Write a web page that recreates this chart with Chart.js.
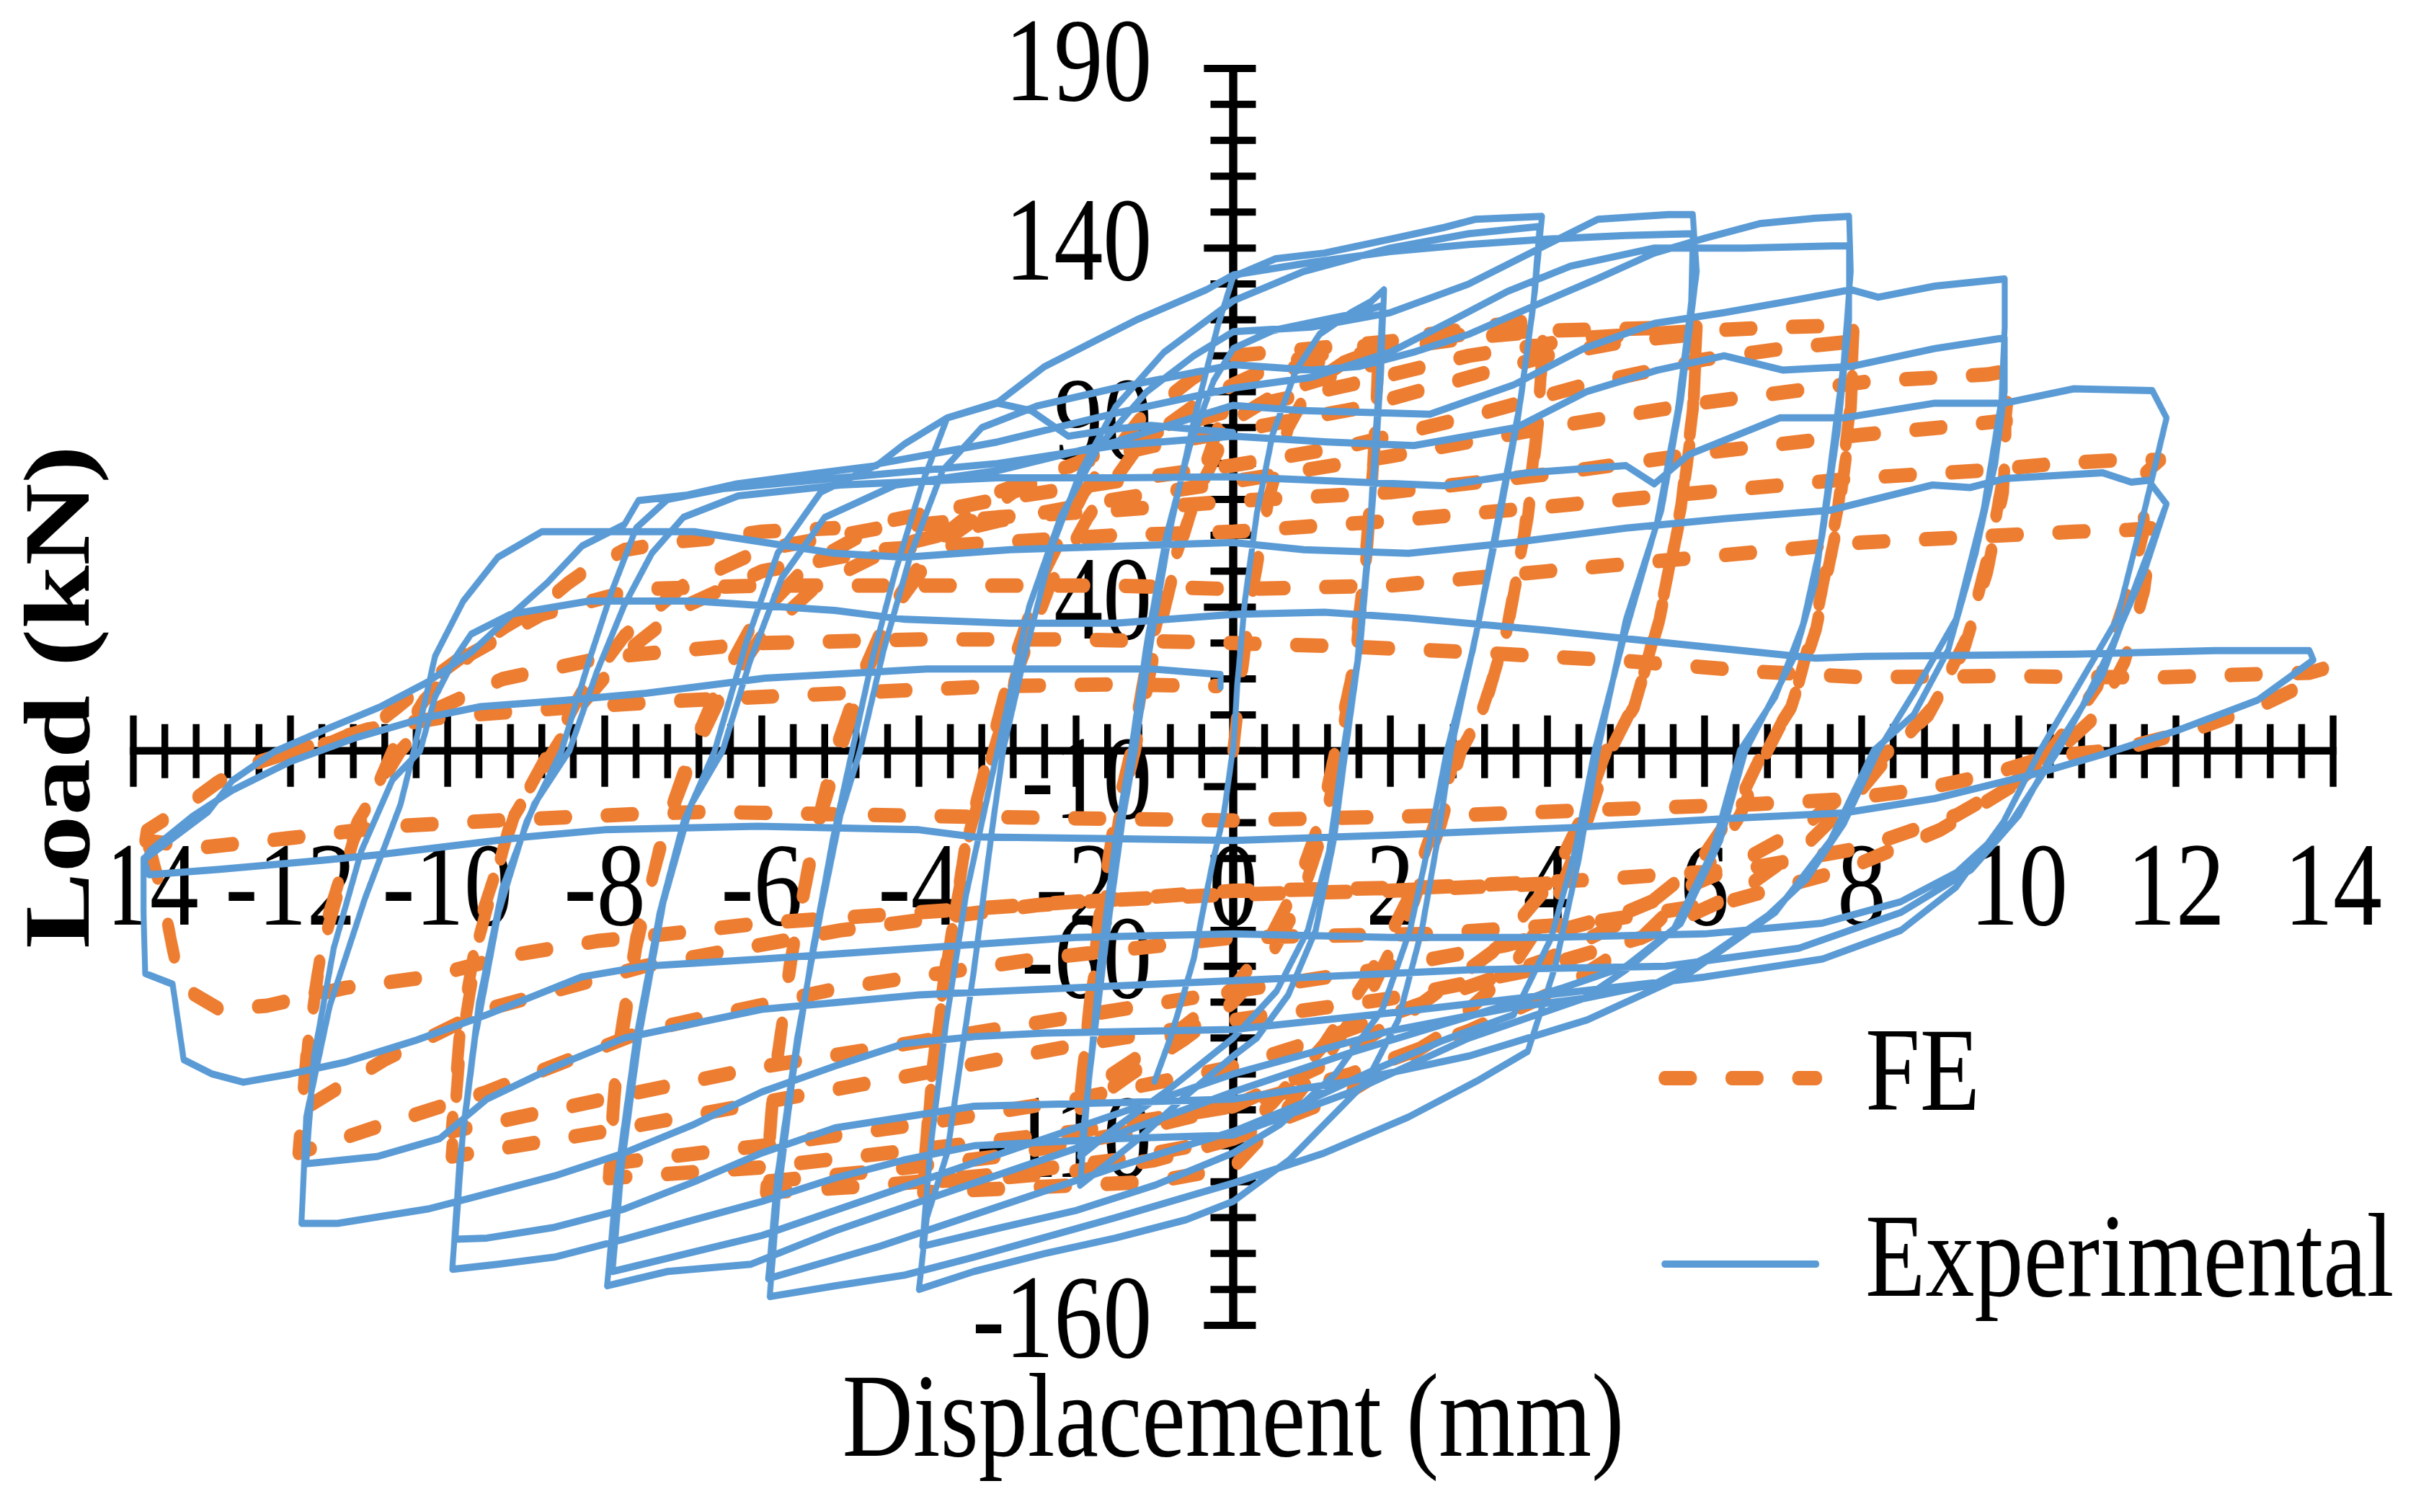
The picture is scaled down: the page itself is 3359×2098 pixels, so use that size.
<!DOCTYPE html>
<html><head><meta charset="utf-8">
<script src="https://cdn.jsdelivr.net/npm/chart.js@4.4.1/dist/chart.umd.min.js"></script>
<style>html,body{margin:0;padding:0;background:#fff;overflow:hidden;}canvas{display:block;}</style>
</head><body>
<canvas id="c" width="4096" height="2098" style="width:3359px;height:2098px"></canvas>
<script>
// ---------- tick labels ----------
const xTickValues = [-14,-12,-10,-8,-6,-4,-2,0,2,4,6,8,10,12,14];
const yTickValues = [-160,-110,-60,-10,40,90,140,190];
const seriesNames = ['Experimental','FE'];

// ---------- Experimental (blue) branches: [displacement mm, load kN] ----------
const eP0 = [[0,0],[0.05,18],[0.15,42],[0.3,66],[0.5,88],[0.8,106],[1.1,116],[1.5,122],[1.75,125],[1.92,128.4]];
const eN1 = [[1.92,128.4],[1.88,105],[1.78,70],[1.62,30],[1.43,0],[1.28,-25],[1.05,-50],[0.7,-68],[0.3,-80],[0,-85],[-0.6,-96],[-1.2,-108],[-1.95,-121]];
const eP1 = [[-1.95,-121],[-1.85,-95],[-1.7,-60],[-1.5,-25],[-1.3,0],[-1.1,30],[-0.85,60],[-0.55,85],[-0.25,103],[0,112],[0.5,117],[1.16,120],[1.6,122],[1.9,124]];
const eN2 = [[1.9,124],[1.84,98],[1.74,62],[1.58,25],[1.4,0],[1.22,-28],[0.95,-50],[0.55,-67],[0,-80],[-0.8,-94],[-1.5,-105],[-1.95,-113]];
const eP2 = [[-1.95,-113],[-1.8,-85],[-1.6,-50],[-1.4,-18],[-1.25,0],[-1.05,30],[-0.8,62],[-0.5,92],[-0.2,118],[0,132],[0.54,137],[1.16,138.6],[2.05,142.7],[2.68,145.7],[3.08,148],[3.93,148.8]];
const eN3 = [[3.93,148.8],[3.84,128],[3.66,97.8],[3.39,67],[3.13,36.6],[2.77,0],[2.6,-25],[2.4,-50],[2.1,-75],[1.7,-92],[1.16,-104],[0.71,-114],[0,-125.5],[-0.6,-130.6],[-1.5,-135.7],[-2.4,-140],[-3.3,-145],[-4,-150]];
const eP3 = [[-4,-150],[-3.9,-130],[-3.64,-112],[-3.3,-61],[-3.06,-20.4],[-2.93,0],[-2.66,26],[-2.3,57],[-1.95,77.4],[-1.5,95.7],[-0.88,111],[0,125.3],[0.9,133.5],[2,140],[3,144],[3.9,146]];
const eN4 = [[3.9,146],[3.82,124],[3.62,92],[3.35,60],[3.05,28],[2.72,0],[2.5,-25],[2.25,-50],[1.9,-72],[1.3,-90],[0.6,-104],[0,-112],[-1,-121],[-2,-128],[-3,-133],[-3.96,-138]];
const eP4 = [[-3.96,-138],[-3.85,-110],[-3.65,-75],[-3.4,-40],[-3.1,-10],[-2.85,15],[-2.6,40],[-2.2,65],[-1.7,85],[-1.1,100],[-0.5,110],[0,116.7],[1,118],[2,122],[3,130],[4,141],[4.64,148],[5.54,149.3],[5.85,149.3]];
const eN5 = [[5.85,149.3],[5.9,133.5],[5.7,97.8],[5.45,67],[5,36.6],[4.64,0],[4.4,-30],[4.1,-60],[3.75,-83.7],[3.1,-92],[2.23,-102],[1.16,-112],[0,-120.4],[-1.5,-130],[-3.3,-141],[-4.18,-146],[-5.07,-149],[-5.9,-152]];
const eP5 = [[-5.9,-152],[-5.8,-125],[-5.6,-90],[-5.35,-55],[-5.1,-25],[-4.85,0],[-4.6,25],[-4.3,50],[-3.95,75],[-3.64,92.7],[-3,97],[-2.4,107],[-1.68,115],[-1.23,120],[-0.34,128.4],[0,132.5],[1,136],[2,139],[3,141],[4,142.5],[5,143.5],[5.85,144]];
const eN6 = [[5.85,144],[5.83,125],[5.66,95],[5.4,64],[4.98,32],[4.6,0],[4.35,-28],[4.05,-52],[3.57,-73.5],[2.68,-80.6],[1.8,-88.8],[0.9,-98],[0,-106],[-1.5,-116],[-3,-127],[-4.5,-138],[-5.92,-147]];
const eP6 = [[-5.92,-147],[-5.8,-118],[-5.55,-80],[-5.25,-45],[-5,-18],[-4.75,0],[-4.45,28],[-4.1,55],[-3.7,78],[-3.2,90],[-2.5,96],[-1.5,101],[0,107.5],[1,106],[1.6,107],[2.3,111],[3,116],[3.84,124],[4.64,131.5],[5.36,138.6],[6,142.7],[6.7,146.8],[7.41,148.3],[7.84,148.8]];
const eN7 = [[7.84,148.8],[7.86,133.5],[7.77,108],[7.59,77],[7.41,46.8],[7.14,26],[6.52,0],[6.2,-25],[5.7,-48],[5,-60],[4.2,-66],[3,-74],[1.5,-84],[0,-95],[-1.5,-107],[-3.3,-120.4],[-5.07,-133.7],[-6.14,-143],[-7.2,-145],[-7.97,-149]];
const eP7 = [[-7.97,-149],[-7.85,-120],[-7.6,-80],[-7.3,-45],[-7,-20],[-6.6,0],[-6.2,30],[-5.8,55],[-5.25,72],[-4.5,80],[-3,86],[-1.5,94],[0,101],[1,104],[2,111],[2.8,120],[3.5,128],[4.3,135],[5.36,140],[6.5,140],[7.63,140.6],[7.84,140.6]];
const eN8 = [[7.84,140.6],[7.84,120],[7.7,90],[7.5,60],[7.25,35],[6.9,15],[6.45,0],[6.1,-28],[5.6,-50],[5,-61],[4.46,-69],[3.57,-71.4],[2,-78],[0,-90],[-2,-105],[-4,-120],[-6,-135],[-7.9,-145]];
const eP8 = [[-7.9,-145],[-7.78,-115],[-7.55,-78],[-7.25,-42],[-6.9,-15],[-6.5,0],[-6.15,25],[-5.75,48],[-5.2,65],[-4.3,74],[-3,78],[-1.5,86],[0,96.2],[0.9,94.7],[2.5,93.7],[3.57,101.9],[4.46,112],[5.36,119],[6.25,122],[7.1,125.3],[7.86,128.4],[8.21,126.3],[8.93,129.4],[9.82,131.4]];
const eN9 = [[9.82,131.4],[9.82,118],[9.78,97.8],[9.55,67],[9.2,36.6],[8.66,16],[8.21,0],[7.77,-20.4],[7.3,-35.7],[6.8,-46],[6.07,-57],[5.36,-65],[4.46,-69],[3,-80],[1.5,-95],[0,-107],[-1.5,-108],[-3.3,-110],[-4.2,-114],[-5.07,-119],[-6,-125.5],[-6.86,-130.6],[-7.75,-136],[-8.64,-141],[-9.36,-143],[-9.94,-144.4]];
const eP9 = [[-9.94,-144.4],[-9.85,-115],[-9.65,-80],[-9.35,-45],[-9,-20],[-8.55,0],[-8.2,25],[-7.9,45],[-7.6,62],[-7.2,70],[-6.5,73],[-5,76],[-3,80],[-1.5,85],[0,87.6],[1.2,86],[2.3,85],[3.6,90],[4.5,100],[5.4,106],[6.25,110],[7,106],[7.86,107],[8.93,112],[9.82,115]];
const eN10 = [[9.82,115],[9.82,100],[9.7,80],[9.45,55],[9.1,28],[8.66,10],[8.15,0],[7.6,-25],[6.9,-45],[5.8,-62],[4.5,-75],[3,-85],[1.5,-92],[0,-97],[-1.5,-98],[-3.3,-99],[-5.07,-105],[-6,-112],[-6.86,-120],[-7.75,-127.6],[-8.64,-132.7],[-9.5,-135.7],[-9.9,-136]];
const eP10 = [[-9.9,-136],[-9.8,-105],[-9.6,-70],[-9.3,-38],[-8.9,-15],[-8.45,0],[-8.1,22],[-7.75,40.6],[-7.4,55],[-7,65],[-6.3,71],[-5,74],[-3,76],[-1.5,76],[0,76.3],[1.07,75.3],[2.68,73.8],[3.75,77.4],[5,79.4],[5.36,74.3],[5.8,82.5],[6.96,92.7],[7.77,92.7],[8.93,96.8],[9.82,96.8],[10.7,100.8],[11.7,100.3]];
const eN11 = [[11.7,100.3],[11.88,92.7],[11.6,67],[11.25,36.6],[10.7,16],[10.27,0],[9.8,-20],[9.2,-38],[8.5,-50],[7.5,-58],[6,-63],[4,-68],[2,-73],[0,-77.6],[-2.4,-78.6],[-3.3,-79.6],[-4.2,-81.6],[-5.07,-87.8],[-6,-95],[-6.86,-104],[-7.75,-112],[-8.64,-118.4],[-9.7,-124.5],[-10.25,-127.6],[-11.4,-131.6],[-11.86,-131.6]];
const eP11 = [[-11.86,-131.6],[-11.8,-102],[-11.5,-71],[-11.05,-41],[-10.6,-15],[-10.43,0],[-10.16,26.3],[-9.8,41.7],[-9.36,53.9],[-8.8,61],[-7.4,61],[-6.86,61],[-5.96,58],[-5.07,55],[-4.18,53.9],[-2.84,56],[0,58],[0.9,56],[2.23,55],[3.57,58],[5,62],[6.25,64.6],[7.6,67],[8.9,74],[9.38,73.3],[9.82,75.8],[11.07,77.4],[11.43,74.8],[11.65,75.3]];
const eN12 = [[11.65,75.3],[11.88,68.7],[11.5,46.8],[11.07,21.3],[10.45,0],[10,-18],[9.4,-33],[8.5,-45],[7.2,-55],[5.5,-60],[3,-61],[0,-64],[-2,-66],[-4,-68],[-6,-72],[-7.75,-80],[-8.64,-88],[-9.5,-97],[-10.1,-108],[-10.9,-113],[-11.8,-115]];
const eP12 = [[-11.8,-115],[-11.7,-85],[-11.45,-55],[-11.1,-28],[-10.7,-8],[-10.35,0],[-10.16,15],[-9.9,26],[-9.7,32.5],[-9.2,38],[-8.2,41.7],[-6.86,41.7],[-5.07,39.1],[-4.18,36.6],[-2.84,35.5],[-1.5,35.5],[0,38],[1.16,38.6],[2.23,37],[4,33.5],[5.36,30.4],[7.41,25.8],[8.04,26.3],[10.7,26.9],[12.5,27.9],[13.7,27.9]];
const eN13 = [[13.7,27.9],[13.75,25.3],[13.04,14.1],[12.05,5.9],[11.07,-1],[10.27,-6.1],[8.93,-13.3],[7.77,-17.3],[6.25,-18.9],[4.3,-21.4],[2,-23.5],[0,-25],[-1.5,-24.5],[-3.3,-24],[-4,-22],[-6.05,-21],[-8,-22],[-9,-24],[-10.9,-29],[-11.6,-30.5],[-12.9,-33],[-13.8,-34.5],[-13.87,-30]];
const eX1 = [[11.88,68.7],[11.6,50],[11.2,30],[10.8,12],[10.5,0],[9.9,-20],[9.2,-34],[8.5,-42],[7.5,-48],[6,-51],[4,-52],[2,-52],[0,-51],[-2,-52],[-4,-55],[-6,-58],[-7.5,-60],[-8.3,-63],[-9.5,-73.5],[-10.4,-80.6],[-11.3,-86.7],[-12,-90],[-12.6,-92.3],[-13,-90],[-13.36,-86],[-13.5,-65],[-13.85,-62],[-13.87,-45],[-13.87,-30]];
const eX2 = [[-13.86,-30.3],[-13.05,-17],[-12.74,-8.3],[-12.21,-0.3],[-11.58,5.7],[-10.85,12.3],[-10.25,19.2],[-9.7,27.4],[-9.2,37.6],[-8.73,46.8],[-8.29,57],[-7.75,63],[-7.57,69.7],[-6.95,71.2],[-6.32,74.3],[-5.25,77.4],[-4.54,79.4],[-4.18,85.5],[-3.64,92.7],[-3,96.8],[-2.57,94.7],[-2.1,87.6],[-1.5,89.6],[-1.05,90.6],[0,88.6]];
const eX3 = [[-13.86,-30],[-13.78,-27.7],[-13.25,-18.3],[-12.74,-11],[-12,-3],[-11.16,3.7],[-10.32,9],[-9.58,12.3],[-8.53,14],[-7.48,16],[-5.96,20.2],[-3.9,22.8],[-1.05,22.8],[-0.16,21.2],[-0.16,17.7]];
const eX4 = [[0,1],[-0.12,-17.7],[-0.26,-31],[-0.38,-44],[-0.5,-57.7],[-0.63,-67.7],[-0.8,-80],[-1,-92]];

// ---------- FE (orange) branches ----------
const fP0 = [[0,0],[0.1,20],[0.25,45],[0.45,70],[0.7,90],[1,102],[1.4,108],[1.85,112]];
const fN1 = [[1.85,112],[1.8,85],[1.7,55],[1.55,25],[1.35,0],[1.15,-22],[0.85,-42],[0.4,-60],[0,-70],[-0.6,-80],[-1.3,-90],[-1.95,-100]];
const fP1 = [[-1.95,-100],[-1.85,-75],[-1.7,-45],[-1.5,-18],[-1.3,0],[-1.1,25],[-0.8,50],[-0.45,72],[0,92],[0.6,100],[1.2,104],[1.85,108]];
const fN2 = [[1.85,108],[1.78,80],[1.66,48],[1.5,20],[1.3,0],[1.1,-20],[0.8,-38],[0.4,-55],[0,-66],[-0.7,-78],[-1.4,-88],[-1.95,-96]];
const fP2 = [[-1.95,-96],[-1.82,-70],[-1.62,-40],[-1.42,-15],[-1.25,0],[-1,28],[-0.7,55],[-0.35,80],[0,102],[0.6,108],[1.5,112],[2.5,116],[3.3,118.5],[3.95,120]];
const fN3 = [[3.95,120],[3.9,95],[3.75,65],[3.5,35],[3.2,12],[2.9,0],[2.65,-20],[2.3,-42],[1.8,-65],[1.2,-85],[0.6,-102],[0,-116],[-1,-120],[-2,-121],[-3,-122],[-3.95,-123]];
const fP3 = [[-3.95,-123],[-3.85,-95],[-3.65,-60],[-3.4,-25],[-3.1,0],[-2.8,25],[-2.4,50],[-1.9,72],[-1.2,92],[-0.5,104],[0,110],[1,112],[2,114],[3,116],[3.95,117]];
const fN4 = [[3.95,117],[3.88,92],[3.7,60],[3.45,30],[3.15,10],[2.85,0],[2.6,-18],[2.25,-40],[1.75,-62],[1.15,-82],[0.5,-98],[0,-108],[-1,-114],[-2,-117],[-3,-119],[-3.95,-120]];
const fP4 = [[-3.95,-120],[-3.85,-92],[-3.65,-58],[-3.35,-22],[-3.05,0],[-2.75,22],[-2.35,45],[-1.85,65],[-1.2,85],[-0.5,96],[0,102],[1,108],[2,112],[3,115],[4,117],[5,117.5],[5.9,118]];
const fN5 = [[5.9,118],[5.85,95],[5.7,68],[5.45,40],[5.15,15],[4.8,0],[4.5,-20],[4.1,-42],[3.5,-62],[2.6,-80],[1.4,-96],[0,-108],[-1.5,-114],[-3,-118],[-4.5,-121],[-5.95,-123]];
const fP5 = [[-5.95,-123],[-5.85,-95],[-5.65,-60],[-5.35,-25],[-5.07,0],[-4.75,20],[-4.35,40],[-3.8,58],[-3,72],[-2,80],[-1,85],[0,89],[1.5,95],[3,104],[4,110],[5,114],[5.9,116]];
const fN6 = [[5.9,116],[5.85,92],[5.68,64],[5.42,36],[5.1,12],[4.75,0],[4.45,-18],[4,-38],[3.3,-56],[2.3,-72],[1.2,-87],[0,-99],[-1.5,-107],[-3,-113],[-4.5,-117],[-5.95,-120]];
const fP6 = [[-5.95,-120],[-5.85,-92],[-5.6,-55],[-5.3,-22],[-5,0],[-4.7,20],[-4.3,40],[-3.7,58],[-2.8,72],[-1.8,82],[-0.8,90],[0,95],[1.5,102],[3,110],[4.5,115],[6,117],[7,118],[7.9,118.5]];
const fN7 = [[7.9,118.5],[7.85,95],[7.7,68],[7.45,40],[7.15,15],[6.8,0],[6.45,-18],[5.95,-36],[5.2,-52],[4.2,-66],[3,-78],[1.5,-90],[0,-99],[-2,-106],[-4,-111],[-6,-116],[-7.95,-119]];
const fP7 = [[-7.95,-119],[-7.85,-90],[-7.6,-55],[-7.25,-22],[-6.9,0],[-6.55,18],[-6.1,36],[-5.4,52],[-4.4,64],[-3,70],[-1.5,75],[0,79.5],[1.5,85],[3,93],[4.5,102],[6,109],[7,112],[7.9,114]];
const fN8 = [[7.9,114],[7.85,90],[7.68,62],[7.42,34],[7.1,12],[6.75,0],[6.4,-16],[5.9,-32],[5.1,-46],[4,-58],[2.7,-68],[1.3,-79],[0,-88],[-2,-97],[-4,-104],[-6,-110],[-7.95,-115]];
const fP8 = [[-7.95,-115],[-7.85,-86],[-7.6,-52],[-7.2,-20],[-6.85,0],[-6.5,16],[-6,32],[-5.3,46],[-4.3,57],[-3,64],[-1.5,70],[0,75],[2,82],[4,90],[6,97],[8.15,103],[9,104],[9.6,104.8],[9.9,106]];
const fN9 = [[9.9,106],[9.83,92],[9.83,80],[9.65,58],[9.35,32],[8.9,12],[8.4,0],[7.95,-12],[7.3,-26],[6.4,-40],[5.2,-52],[3.8,-61],[2,-69],[0,-75],[-2,-82],[-4,-90],[-6,-98],[-8,-106],[-9.95,-113]];
const fP9 = [[-9.95,-113],[-9.85,-85],[-9.6,-52],[-9.2,-20],[-8.7,0],[-8.3,16],[-7.75,32],[-7,46],[-6,56],[-4.5,62],[-3,65],[-1.5,67],[0,69.5],[2,72],[4,77],[6,83],[8,88],[9,90],[9.85,92]];
const fN10 = [[9.85,92],[9.8,72],[9.6,50],[9.3,28],[8.85,10],[8.35,0],[7.9,-10],[7.2,-22],[6.2,-34],[5,-45],[3.5,-54],[1.8,-61],[0,-67],[-2,-74],[-4,-81],[-6,-88],[-8,-97],[-9.95,-106]];
const fP10 = [[-9.95,-106],[-9.85,-80],[-9.6,-48],[-9.15,-18],[-8.65,0],[-8.25,14],[-7.7,28],[-7,40],[-6,50],[-4.5,56],[-3,58],[-1.5,60],[0,61],[2,64],[4,68],[6,72],[8,76],[9.5,78],[10.5,80],[11.3,81],[11.8,81]];
const fN11 = [[11.8,81],[11.55,76.2],[11.6,61.8],[11.4,45],[11.16,29.4],[11,18],[10.63,6.6],[10.4,0],[9.9,-10],[9,-22],[7.8,-33],[6.3,-42],[4.5,-48],[2.5,-51],[0,-52],[-2.5,-58],[-5,-66],[-7.5,-78],[-9.5,-95],[-10.8,-104],[-11.9,-112]];
const fP11 = [[-11.9,-112],[-11.8,-85],[-11.6,-55],[-11.2,-25],[-10.7,0],[-10.3,14],[-9.7,27],[-8.8,38],[-7.6,45],[-6,46],[-4,46],[-1.5,46],[0,45],[2,46],[4,50],[6,54],[8,58],[9.8,60],[10.7,61],[11.4,61.5],[11.7,62]];
const fN12 = [[11.7,62],[11.6,45],[11.35,25],[11,10],[10.5,0],[10,-8],[9.2,-18],[8,-27],[6.5,-33],[4.5,-36],[2.5,-38],[0,-39],[-2.5,-43],[-5,-50],[-7.5,-60],[-9.5,-72],[-10.8,-86],[-11.85,-100]];
const fP12 = [[-11.85,-100],[-11.75,-75],[-11.55,-48],[-11.15,-20],[-10.6,0],[-10.1,12],[-9.3,20],[-8,26],[-6,30],[-4,31],[-2,31],[0,30],[1.5,29],[3,27.5],[5,25],[6.7,22],[8,20.5],[9.65,20.8],[11.75,20.4],[12.7,21.1],[13.7,21.7],[13.9,23]];
const fN13 = [[13.9,23],[13.6,18],[13.1,12.8],[12.2,5.6],[11.25,0.2],[10.4,-1.4],[9.6,-6.8],[8.7,-11],[7.7,-13.6],[6.7,-14.8],[4.8,-16.3],[2.9,-17.9],[0,-19.4],[-3,-18.5],[-6.74,-17],[-7.69,-17.7],[-9.27,-19.3],[-10.69,-21],[-12,-24.3],[-13.16,-27],[-13.85,-25]];
const fX1 = [[4,-37],[2,-39],[0,-40],[-2,-42],[-4,-45],[-6,-48],[-7.2,-51],[-8.1,-53],[-9.2,-57],[-10.25,-63],[-11.3,-66],[-12.3,-71],[-12.9,-72],[-13.4,-65.6],[-13.52,-53],[-13.63,-40.4],[-13.78,-27.8],[-13.85,-25]];
const fX2 = [[-13.85,-25],[-13.83,-22.3],[-13.36,-15.7],[-12.94,-9],[-12.57,-4.3],[-12.1,-1],[-11.47,2.3],[-10.9,7.7],[-10.63,12.3],[-10.2,20],[-9.7,28],[-9.27,34.5],[-8.8,40.6],[-8.46,46.8],[-8.2,50.8],[-7.75,55.9],[-7.2,58],[-6.7,59],[-6,61],[-5.07,62]];
const fX3 = [[-12.1,-1],[-11,6],[-10,9.5],[-8.5,12],[-7,14],[-5,16],[-3,18],[-1.5,18.5],[-0.2,18]];

const expPath = [eP0,eN1,eP1,eN2,eP2,eN3,eP3,eN4,eP4,eN5,eP5,eN6,eP6,eN7,eP7,eN8,eP8,eN9,eP9,eN10,eP10,eN11,eP11,eN12,eP12,eN13];
const expExtra = [eX1,eX2,eX3,eX4];
const fePath = [fP0,fN1,fP1,fN2,fP2,fN3,fP3,fN4,fP4,fN5,fP5,fN6,fP6,fN7,fP7,fN8,fP8,fN9,fP9,fN10,fP10,fN11,fP11,fN12,fP12,fN13];
const feExtra = [fX1,fX2,fX3];

// ---------- build point lists ----------
function toPoints(path, extras) {
  const pts = [];
  path.forEach(b => b.forEach(p => pts.push({x: p[0], y: p[1]})));
  extras.forEach(s => { pts.push({x: null, y: null}); s.forEach(p => pts.push({x: p[0], y: p[1]})); });
  return pts;
}

const BLUE = '#5B9BD5', ORANGE = '#ED7D31';
const FONT = "'Liberation Serif','Times New Roman',serif";
Chart.defaults.font.family = FONT;
Chart.defaults.color = '#000';

const X_MIN = -14, X_MAX = 14, Y_MIN = -160, Y_MAX = 190;

const crossAxes = {
  id: 'crossAxes',
  beforeDatasetsDraw(chart) {
    const ctx = chart.ctx, xs = chart.scales.x, ys = chart.scales.y;
    const x0 = xs.getPixelForValue(0), y0 = ys.getPixelForValue(0);
    const L = xs.getPixelForValue(X_MIN), R = xs.getPixelForValue(X_MAX);
    const T = ys.getPixelForValue(Y_MAX), B = ys.getPixelForValue(Y_MIN);
    ctx.save();
    // the axis-title box covers the start of the first x label, as in the source
    ctx.fillStyle = '#fff';
    ctx.fillRect(0, 1150, 194, 185);
    ctx.strokeStyle = '#000';
    ctx.lineCap = 'butt';
    ctx.lineWidth = 10.5;
    ctx.beginPath(); ctx.moveTo(L - 6, y0); ctx.lineTo(R + 6, y0); ctx.stroke();
    ctx.lineWidth = 11.5;
    for (let i = 0; i <= 70; i++) {
      const p = xs.getPixelForValue(X_MIN + i * 0.4);
      const major = i % 5 === 0;
      ctx.beginPath(); ctx.moveTo(p, y0 - (major ? 49 : 37)); ctx.lineTo(p, y0 + (major ? 50 : 38)); ctx.stroke();
    }
    ctx.lineWidth = 14;
    ctx.beginPath(); ctx.moveTo(x0, T - 5); ctx.lineTo(x0, B + 5); ctx.stroke();
    ctx.lineWidth = 10;
    for (let i = 0; i <= 35; i++) {
      const p = ys.getPixelForValue(Y_MIN + i * 10);
      const major = i % 5 === 0;
      ctx.beginPath(); ctx.moveTo(x0 - (major ? 49.6 : 38.5), p); ctx.lineTo(x0 + 38.3, p); ctx.stroke();
    }
    ctx.restore();
  }
};

const legendPlace = {
  id: 'legendPlace',
  afterLayout(chart) {
    const lg = chart.legend;
    if (!lg) return;
    lg.left = 2724; lg.top = 1321; lg.width = 4096 - 2724; lg.height = 760;
    lg.right = 4096; lg.bottom = lg.top + lg.height;
  }
};

new Chart(document.getElementById('c'), {
  type: 'scatter',
  data: {
    datasets: [
      { label: seriesNames[0], data: toPoints(expPath, expExtra), showLine: true, borderColor: BLUE, backgroundColor: BLUE,
        borderWidth: 10, pointRadius: 0, pointHoverRadius: 0, borderJoinStyle: 'round', borderCapStyle: 'round',
        spanGaps: false, xAxisID: 'x', yAxisID: 'y' },
      { label: seriesNames[1], data: toPoints(fePath, feExtra), showLine: true, borderColor: ORANGE, backgroundColor: ORANGE,
        borderWidth: 20, borderDash: [45, 68], pointRadius: 0, pointHoverRadius: 0, borderJoinStyle: 'round', borderCapStyle: 'round',
        spanGaps: false, xAxisID: 'x', yAxisID: 'y' }
    ]
  },
  options: {
    responsive: false, animation: false, devicePixelRatio: 1, events: [],
    layout: { padding: { left: 0, right: 148.8, top: 95, bottom: 0 } },
    scales: {
      // labels of the horizontal axis sit on a row below the axis line (value -23.1 kN), axis line drawn at 0 by crossAxes
      x: { type: 'linear', min: X_MIN, max: X_MAX, position: { y: -23.1 },
        afterBuildTicks: (s) => { s.ticks = xTickValues.map(v => ({ value: v })); },
        ticks: { autoSkip: false, maxRotation: 0, minRotation: 0, padding: 0, color: '#000',
          font: { family: FONT, size: 166, lineHeight: 1 }, callback: (v) => String(v) },
        grid: { display: false, drawTicks: false }, border: { display: false } },
      y: { type: 'linear', min: Y_MIN, max: Y_MAX, display: false },
      yLab: { type: 'linear', axis: 'y', min: Y_MIN, max: Y_MAX, position: { x: -1.034 },
        afterBuildTicks: (s) => { s.ticks = yTickValues.map(v => ({ value: v })); },
        ticks: { autoSkip: false, padding: 0, color: '#000', font: { family: FONT, size: 166, lineHeight: 1 }, callback: (v) => String(v) },
        grid: { display: false, drawTicks: false }, border: { display: false } },
      xTitle: { type: 'linear', axis: 'x', position: 'bottom',
        ticks: { display: false }, grid: { display: false, drawTicks: false }, border: { display: false },
        title: { display: true, text: 'Displacement (mm)', color: '#000', font: { family: FONT, size: 166, lineHeight: 1.2 }, padding: { top: 37.4, bottom: 22.4 } } },
      yTitle: { type: 'linear', axis: 'y', position: 'left',
        ticks: { display: false }, grid: { display: false, drawTicks: false, z: 1 }, border: { display: false },
        title: { display: true, text: 'Load (kN)', color: '#000', font: { family: FONT, size: 158, weight: 'bold', lineHeight: 1 }, padding: { top: 30, bottom: 37.6 } } }
    },
    plugins: {
      tooltip: { enabled: false },
      legend: {
        display: true, position: 'chartArea', align: 'start',
        labels: {
          font: { family: FONT, size: 166 }, color: '#000', padding: 92,
          usePointStyle: true, pointStyle: 'line', pointStyleWidth: 257,
          sort: (a, b) => b.datasetIndex - a.datasetIndex,
          generateLabels: (chart) => chart.data.datasets.map((ds, i) => ({
            text: ds.label, fontColor: '#000', strokeStyle: ds.borderColor, fillStyle: ds.borderColor,
            lineWidth: ds.borderWidth, lineDash: ds.borderDash || [], lineCap: 'round', lineJoin: 'round',
            pointStyle: 'line', hidden: false, datasetIndex: i
          }))
        }
      }
    }
  },
  plugins: [crossAxes, legendPlace]
});
</script>
</body></html>
